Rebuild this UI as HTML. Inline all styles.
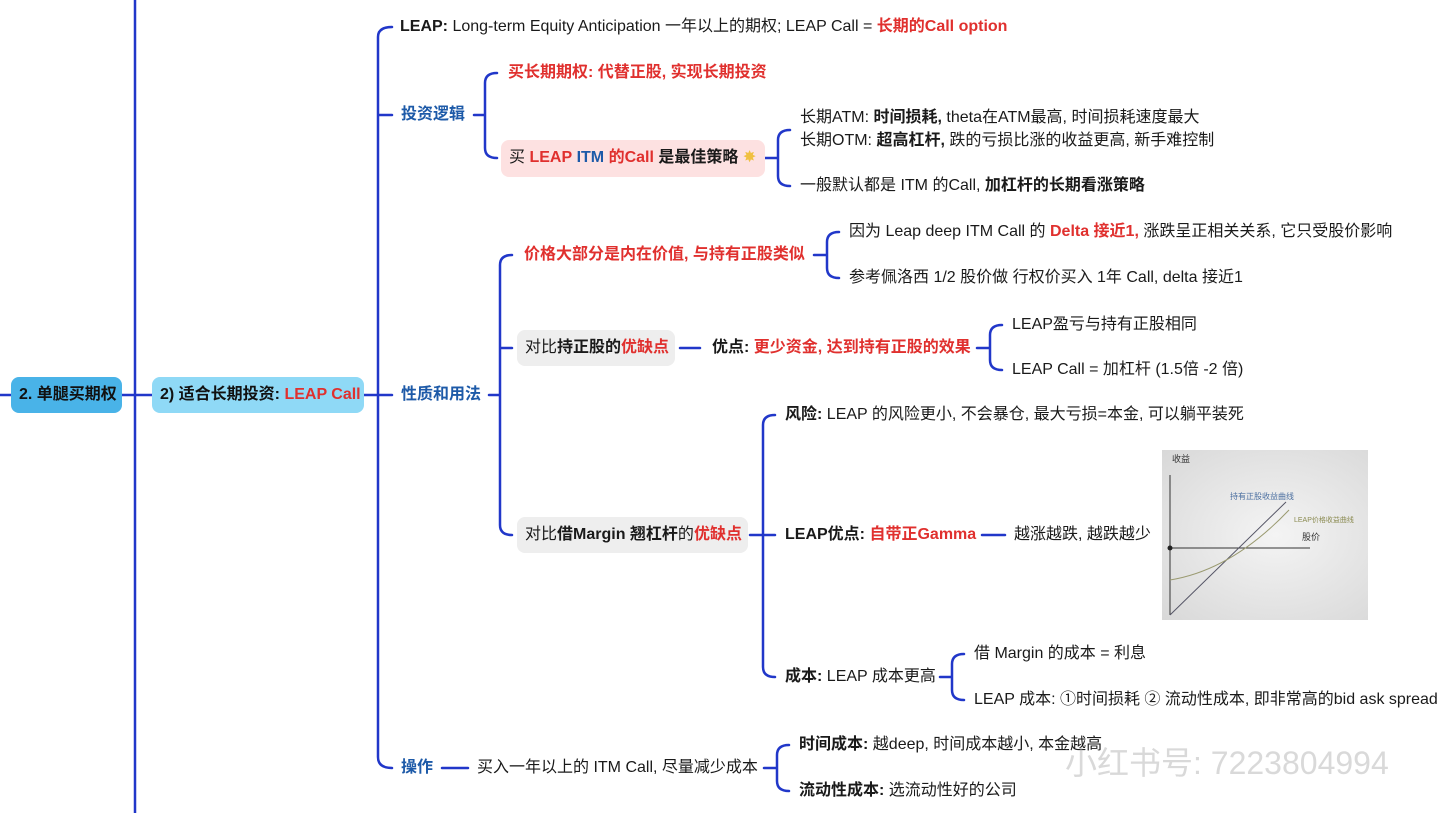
<!DOCTYPE html>
<html><head><meta charset="utf-8"><style>
body{margin:0;width:1440px;height:813px;background:#fff;position:relative;overflow:hidden;font-family:"Liberation Sans","Noto Sans CJK SC",sans-serif;font-size:16px;color:#1a1a1a}
.t{position:absolute;white-space:nowrap;line-height:20px}
.r{color:#e0302e;font-weight:bold}
.b{font-weight:bold}
.bl{color:#1d5aa8;font-weight:bold}
.box{position:absolute;border-radius:8px;line-height:36px;white-space:nowrap;padding:0 8px;box-sizing:border-box}
svg{position:absolute;left:0;top:0}
</style></head><body>
<svg width="1440" height="813" fill="none" stroke="#2137c9" stroke-width="2.5" stroke-linecap="round">
<path d="M135 0 L135 813"/>
<path d="M0 395 L11 395 M122 395 L152 395 M364 395 L378 395"/>
<path d="M392 27 Q378 27 378 37 L378 757 Q378 768 392 768 M378 115 L392 115 M378 395 L392 395"/>
<path d="M474 115 L485 115 M497 73 Q485 73 485 83 L485 148 Q485 158 497 158"/>
<path d="M765 158 L778 158 M790 130 Q778 130 778 140 L778 176 Q778 186 790 186"/>
<path d="M489 395 L500 395 M512 255 Q500 255 500 265 L500 525 Q500 535 512 535 M500 348 L512 348"/>
<path d="M814 255 L827 255 M839 232 Q827 232 827 242 L827 268 Q827 278 839 278"/>
<path d="M680 348 L700 348 M977 348 L990 348 M1002 325 Q990 325 990 335 L990 360 Q990 370 1002 370"/>
<path d="M750 535 L763 535 M775 415 Q763 415 763 425 L763 667 Q763 677 775 677 M763 535 L775 535"/>
<path d="M982 535 L1005 535"/>
<path d="M940 677 L952 677 M964 654 Q952 654 952 664 L952 690 Q952 700 964 700"/>
<path d="M442 768 L468 768 M764 768 L777 768 M789 745 Q777 745 777 755 L777 781 Q777 791 789 791"/>
</svg>
<div class="box b" style="left:11px;top:377px;width:111px;height:36px;background:#49b3e8;color:#111;padding-left:8px">2. 单腿买期权</div>
<div class="box b" style="left:152px;top:377px;width:212px;height:36px;background:#8fd9f6;color:#111">2) 适合长期投资: <span style="color:#e0302e">LEAP Call</span></div>
<div class="t" style="left:400px;top:17px"><b>LEAP:</b> Long-term Equity Anticipation 一年以上的期权; LEAP Call = <span class="r">长期的Call option</span></div>
<div class="t bl" style="left:401px;top:105px">投资逻辑</div>
<div class="t r" style="left:508px;top:63px">买长期期权: 代替正股, 实现长期投资</div>
<div class="box" style="left:501px;top:140px;width:264px;height:37px;background:#fde1e1">买 <span class="r">LEAP</span> <span style="color:#1d5aa8;font-weight:bold">ITM</span> <span class="r">的Call</span> <b>是最佳策略</b> <span style="color:#f0c040">✸</span></div>
<div class="t" style="left:800px;top:108px">长期ATM: <b>时间损耗,</b> theta在ATM最高, 时间损耗速度最大</div>
<div class="t" style="left:800px;top:131px">长期OTM: <b>超高杠杆,</b> 跌的亏损比涨的收益更高, 新手难控制</div>
<div class="t" style="left:800px;top:176px">一般默认都是 ITM 的Call, <b>加杠杆的长期看涨策略</b></div>
<div class="t bl" style="left:401px;top:385px">性质和用法</div>
<div class="t r" style="left:524px;top:245px">价格大部分是内在价值, 与持有正股类似</div>
<div class="t" style="left:849px;top:222px">因为 Leap deep ITM Call 的 <span class="r">Delta 接近1,</span> 涨跌呈正相关关系, 它只受股价影响</div>
<div class="t" style="left:849px;top:268px">参考佩洛西 1/2 股价做 行权价买入 1年 Call, delta 接近1</div>
<div class="box" style="left:517px;top:330px;width:158px;height:36px;background:#eeeeee">对比<b>持正股的</b><span class="r">优缺点</span></div>
<div class="t" style="left:712px;top:338px"><b>优点:</b> <span class="r">更少资金, 达到持有正股的效果</span></div>
<div class="t" style="left:1012px;top:315px">LEAP盈亏与持有正股相同</div>
<div class="t" style="left:1012px;top:360px">LEAP Call = 加杠杆 (1.5倍 -2 倍)</div>
<div class="box" style="left:517px;top:517px;width:231px;height:36px;background:#eeeeee">对比<b>借Margin 翘杠杆</b>的<span class="r">优缺点</span></div>
<div class="t" style="left:785px;top:405px"><b>风险:</b> LEAP 的风险更小, 不会暴仓, 最大亏损=本金, 可以躺平装死</div>
<div class="t" style="left:785px;top:525px"><b>LEAP优点:</b> <span class="r">自带正Gamma</span></div>
<div class="t" style="left:1014px;top:525px">越涨越跌, 越跌越少</div>
<div style="position:absolute;left:1162px;top:450px;width:206px;height:170px;background:radial-gradient(ellipse at 55% 50%,#f4f4f4,#d8d8d8)">
<svg width="206" height="170" style="position:absolute;left:0;top:0">
<line x1="8" y1="165" x2="8" y2="25" stroke="#333" stroke-width="1"/>
<line x1="8" y1="98" x2="148" y2="98" stroke="#333" stroke-width="1"/>
<circle cx="8" cy="98" r="2.5" fill="#222"/>
<line x1="8" y1="165" x2="124" y2="52" stroke="#556" stroke-width="1"/>
<path d="M8 130 Q70 120 127 60" stroke="#9a9a70" stroke-width="1" fill="none"/>
<text x="10" y="12" font-size="9" fill="#333">收益</text>
<text x="140" y="90" font-size="9" fill="#333">股价</text>
<text x="68" y="49" font-size="8" fill="#4b6fa0">持有正股收益曲线</text>
<text x="132" y="72" font-size="7" fill="#8a8a50">LEAP价格收益曲线</text>
</svg></div>
<div class="t" style="left:785px;top:667px"><b>成本:</b> LEAP 成本更高</div>
<div class="t" style="left:974px;top:644px">借 Margin 的成本 = 利息</div>
<div class="t" style="left:974px;top:690px">LEAP 成本: ①时间损耗 ② 流动性成本, 即非常高的bid ask spread</div>
<div class="t bl" style="left:401px;top:758px">操作</div>
<div class="t" style="left:477px;top:758px">买入一年以上的 ITM Call, 尽量减少成本</div>
<div class="t" style="left:799px;top:735px"><b>时间成本:</b> 越deep, 时间成本越小, 本金越高</div>
<div class="t" style="left:799px;top:781px"><b>流动性成本:</b> 选流动性好的公司</div>
<div class="t" style="left:1065px;top:745px;font-size:32px;line-height:36px;color:rgba(170,170,170,0.45)">小红书号: 7223804994</div>
</body></html>
